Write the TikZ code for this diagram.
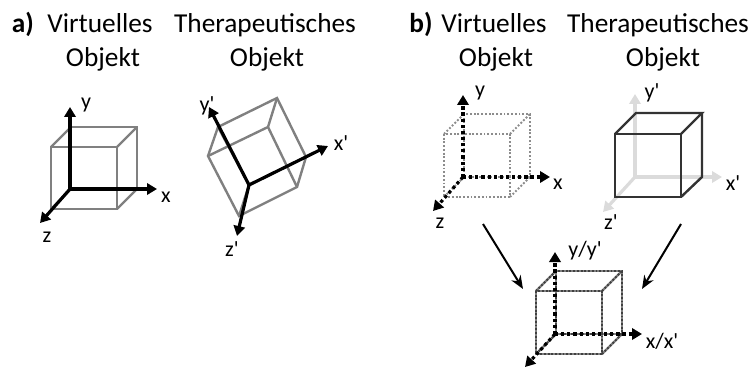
\documentclass[tikz,border=0pt]{standalone}
\usepackage{fontspec}
\setmainfont{Carlito}[Ligatures=TeXOff]
\usetikzlibrary{arrows.meta}
\tikzset{
    lbl/.style={inner sep=0pt, font=\fontsize{16.5}{18}\selectfont},
    head/.style={inner sep=0pt, anchor=base, font=\fontsize{20.5}{24}\selectfont},
    headb/.style={head, font=\fontsize{20.5}{24}\selectfont\bfseries},
    axis/.style={-{Triangle[length=7.5pt,width=8.5pt]}, line width=2.4pt, black},
    axisdot/.style={axis, dash pattern=on 2.4pt off 2.2pt},
    axisfaint/.style={axis, black!14},
    cubegray/.style={line width=1.8pt, black!50},
    cubedot/.style={line width=1.5pt, black!45, dash pattern=on 1.4pt off 1.4pt},
    cubedark/.style={line width=1.8pt, black!80},
    arr/.style={-{Stealth[length=10pt,width=8pt]}, line width=1.5pt, black}
}
% box between two opposite corners of the front face, with depth dx,dy
\newcommand{\cubebox}[7]{
    \draw[#1] (#2,#3) rectangle (#4,#5);
    \draw[#1] (#2+#6,#3+#7) rectangle (#4+#6,#5+#7);
    \draw[#1] (#2,#3) -- (#2+#6,#3+#7);
    \draw[#1] (#4,#3) -- (#4+#6,#3+#7);
    \draw[#1] (#2,#5) -- (#2+#6,#5+#7);
    \draw[#1] (#4,#5) -- (#4+#6,#5+#7);
}
\begin{document}
\begin{tikzpicture}[x=0.75pt, y=-0.75pt]
\useasboundingbox (0,0) rectangle (753,367);

% titles
\node[headb] (ta) at (23,33) {a)};
\node[head] (tav) at (100,33) {Virtuelles};
\node[head] (tavo) at (103,67) {Objekt};
\node[head] (tat) at (265,33) {Therapeutisches};
\node[head] (tato) at (267,67) {Objekt};
\node[headb] (tb) at (421,33) {b)};
\node[head] (tbv) at (494,33) {Virtuelles};
\node[head] (tbvo) at (496,67) {Objekt};
\node[head] (tbt) at (658,33) {Therapeutisches};
\node[head] (tbto) at (663,67) {Objekt};

% a) virtual
\cubebox{cubegray}{51}{147}{117}{209}{20}{-20}
\coordinate (o1) at (70,189);
\node[lbl] (y1) at (86,105) {y};
\node[lbl] (x1) at (166,197) {x};
\node[lbl] (z1) at (47,237) {z};
\draw[axis] (o1) -- (70,107);
\draw[axis] (o1) -- (157,189);
\draw[axis] (o1) -- (40,223);

% a) therapeutic
\coordinate (o2) at (249,185);
\draw[cubegray] (277,98) -- (306,157) -- (297,187) -- (239,216) -- (208,156) -- (218,127) -- cycle;
\draw[cubegray] (208,156) -- (268,127) -- (297,187);
\draw[cubegray] (268,127) -- (277,98);
\draw[cubegray] (239,216) -- (o2) -- (306,157);
\draw[cubegray] (o2) -- (218,127);
\node[lbl] (y2) at (207,106) {y'};
\node[lbl] (x2) at (341,143) {x'};
\node[lbl] (z2) at (232,249) {z'};
\draw[axis] (o2) -- (209,107);
\draw[axis] (o2) -- (328,146);
\draw[axis] (o2) -- (237,236);

% b) virtual
\cubebox{cubedot}{444}{134}{510}{197}{20}{-20}
\coordinate (o3) at (463,177);
\node[lbl] (y3) at (480,93) {y};
\node[lbl] (x3) at (558,184) {x};
\node[lbl] (z3) at (440,223) {z};
\draw[axisdot] (o3) -- (463,95);
\draw[axisdot] (o3) -- (550,177);
\draw[axisdot] (o3) -- (433,211);

% b) therapeutic
\coordinate (o4) at (635,177);
\draw[axisfaint] (o4) -- (635,94);
\draw[axisfaint] (o4) -- (722,177);
\draw[axisfaint] (o4) -- (603,212);
\draw[cubedark] (615,134) rectangle (681,197);
\draw[cubedark] (615,134) -- (636,113) -- (702,113) -- (681,134);
\draw[cubedark] (702,113) -- (702,177) -- (681,197);
\node[lbl] (y4) at (652,93) {y'};
\node[lbl] (x4) at (733,183) {x'};
\node[lbl] (z4) at (611,222) {z'};

% b) merged
\cubebox{cubegray}{536}{291}{602}{354}{20}{-20}
\cubebox{cubedot, black!75}{536}{291}{602}{354}{20}{-20}
\coordinate (o5) at (555,334);
\node[lbl] (y5) at (585,251) {y/y'};
\node[lbl] (x5) at (662,341) {x/x'};
\draw[axisdot] (o5) -- (555,252);
\draw[axisdot] (o5) -- (642,334);
\draw[axisdot] (o5) -- (525,367);

% arrows towards the merged cube
\coordinate (a1) at (483,224);
\coordinate (b1) at (523,289);
\coordinate (a2) at (681,224);
\coordinate (b2) at (642,289);
\draw[arr] (a1) -- (b1);
\draw[arr] (a2) -- (b2);
\end{tikzpicture}
\end{document}
